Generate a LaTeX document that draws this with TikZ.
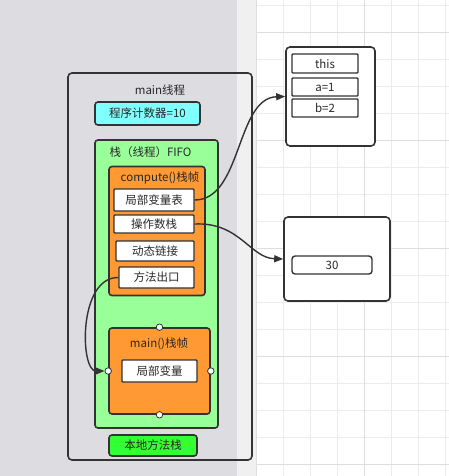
\documentclass[tikz,border=0pt]{standalone}
\usepackage{fontspec}
\setmainfont{Noto Sans CJK SC}
\usetikzlibrary{arrows.meta}
\definecolor{bgleft}{RGB}{220,220,225}
\definecolor{bgstrip}{RGB}{240,240,240}
\definecolor{gridminor}{RGB}{236,236,236}
\definecolor{gridmajor}{RGB}{222,222,222}
\definecolor{edge}{RGB}{51,51,51}
\definecolor{txt}{RGB}{40,40,40}
\definecolor{pccol}{RGB}{128,255,255}
\definecolor{stackcol}{RGB}{153,255,153}
\definecolor{framecol}{RGB}{255,153,51}
\definecolor{nativecol}{RGB}{51,255,51}
\tikzset{
  frame/.style={draw=edge, line width=1.6pt, rounded corners=3pt, inner sep=0pt},
  cell/.style={draw=edge, line width=1.4pt, fill=white, inner sep=0pt, rounded corners=0.8pt, font=\fontsize{11.5}{13}\selectfont, text=txt},
  lbl/.style={font=\fontsize{11.5}{13}\selectfont, text=txt, inner sep=0pt},
  handle/.style={circle, draw=edge, line width=0.8pt, fill=white, minimum size=6.5pt, inner sep=0pt},
  link/.style={draw=edge, line width=1.4pt, -{Triangle[length=9pt,width=7pt]}},
}
\begin{document}
\begin{tikzpicture}[x=1pt,y=-1pt]
\useasboundingbox (0,0) rectangle (449,476);
% background
\fill[bgleft] (0,0) rectangle (237,476);
\fill[bgstrip] (237,0) rectangle (256,476);
\fill[white] (256,0) rectangle (449,476);
\foreach \x in {283,310,337,391,418,445} \draw[gridminor, line width=0.8pt] (\x,0) -- (\x,476);
\foreach \y in {5,59,86,113,167,194,221,275,302,329,383,410,437} \draw[gridminor, line width=0.8pt] (256,\y) -- (449,\y);
\foreach \x in {256,364} \draw[gridmajor, line width=0.8pt] (\x,0) -- (\x,476);
\foreach \y in {32,140,248,356,464} \draw[gridmajor, line width=0.8pt] (256,\y) -- (449,\y);

% main thread
\node[frame, rounded corners=4pt, minimum width=184pt, minimum height=387pt] (outer) at (160,266.5) {};
\node[lbl] (mainlbl) at (160,90) {main线程};
\node[frame, fill=pccol, minimum width=105pt, minimum height=23pt, lbl] (pc) at (147.5,113.5) {程序计数器=10};
\node[frame, fill=stackcol, minimum width=123pt, minimum height=288pt] (stack) at (156.5,284) {};
\node[lbl] (stacklbl) at (150.5,152) {栈（线程）FIFO};

% compute frame
\node[frame, fill=framecol, minimum width=96pt, minimum height=129pt] (cframe) at (157,231) {};
\node[lbl] (clbl) at (160,177.5) {compute()栈帧};
\node[cell, minimum width=80pt, minimum height=22pt] (lv) at (154,200) {局部变量表};
\node[cell, minimum width=80pt, minimum height=18pt] (ops) at (154,224) {操作数栈};
\node[cell, minimum width=78pt, minimum height=20pt] (dyn) at (155,251) {动态链接};
\node[cell, minimum width=75pt, minimum height=21pt] (exit) at (156.5,277.5) {方法出口};

% main frame
\node[frame, fill=framecol, minimum width=101pt, minimum height=86pt] (mframe) at (159.5,371) {};
\node[lbl] (mlbl) at (159,344) {main()栈帧};
\node[cell, minimum width=75pt, minimum height=22pt] (mlv) at (159.5,371) {局部变量};
\foreach \a in {north,west,east,south} \node[handle] (h\a) at (mframe.\a) {};

% native stack
\node[frame, fill=nativecol, minimum width=88pt, minimum height=21pt, lbl] (native) at (153,445.5) {本地方法栈};

% heap objects
\node[frame, fill=white, rounded corners=4pt, minimum width=89pt, minimum height=99pt] (obj1) at (330.5,96.5) {};
\node[cell, minimum width=66pt, minimum height=19pt] (this) at (325,63.5) {this};
\node[cell, minimum width=66pt, minimum height=18pt] (a1) at (325,87) {a=1};
\node[cell, minimum width=66pt, minimum height=18pt] (b2) at (325,108) {b=2};

\node[frame, fill=white, rounded corners=4pt, minimum width=106pt, minimum height=84pt] (obj2) at (337,259) {};
\node[cell, rounded corners=3pt, minimum width=80pt, minimum height=18pt] (v30) at (332,265) {30};

% links
\draw[link] (lv.east) .. controls (242,200) and (236,98) .. (obj1.west);
\draw[link] (ops.east) .. controls (240,222) and (250,258) .. (obj2.west);
\draw[link] (exit.west) .. controls (78,277) and (80,371) .. (hwest.west);
\end{tikzpicture}
\end{document}
